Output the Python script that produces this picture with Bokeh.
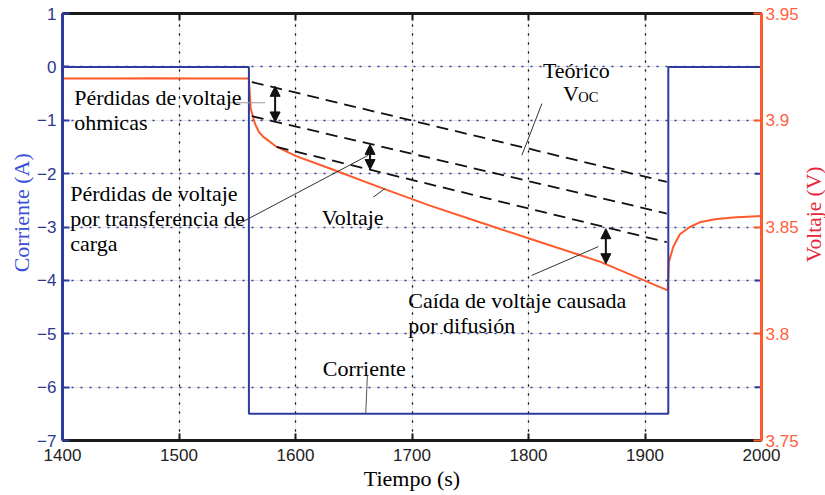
import math
from bokeh.plotting import figure
from bokeh.models import (Range1d, LinearAxis, FixedTicker, Label, Arrow,
                          NormalHead, Grid)
from bokeh.embed import file_html
from bokeh.resources import INLINE

# ---------------- data ----------------
time_ticks = [1400, 1500, 1600, 1700, 1800, 1900, 2000]
current_ticks = [-7, -6, -5, -4, -3, -2, -1, 0, 1]
current_tick_labels = ["\u22127", "\u22126", "\u22125", "\u22124", "\u22123",
                       "\u22122", "\u22121", "0", "1"]
voltage_ticks = [3.75, 3.80, 3.85, 3.90, 3.95]
voltage_tick_labels = ["3.75", "3.8", "3.85", "3.9", "3.95"]

t_current = [1400, 1560, 1560, 1920, 1920, 2000]
current = [0.0, 0.0, -6.5, -6.5, 0.0, 0.0]

t_voltage = [1400, 1440, 1480, 1520, 1559, 1560, 1561.5, 1565.2, 1568.6,
             1572.4, 1583.9, 1601.1, 1629.6, 1675.4, 1715.4, 1758.3, 1801.2,
             1861.2, 1919.5, 1920.5, 1924.2, 1929.9, 1938.5, 1947.0, 1960.0,
             1975.4, 2000]
voltage = [3.9196, 3.9195, 3.9197, 3.9196, 3.9196, 3.9196, 3.9055, 3.8984,
           3.8945, 3.8922, 3.8875, 3.8831, 3.8774, 3.8680, 3.8600, 3.8522,
           3.8445, 3.8338, 3.8203, 3.8336, 3.8406, 3.8466, 3.8500, 3.8522,
           3.8536, 3.8545, 3.8551]

# dashed reference lines (theoretical OCV and loss levels)
t_ocv = [1562.5, 1918.7]
v_ocv = [3.9179, 3.8711]
t_ohm = [1562.5, 1918.7]
v_ohm = [3.9019, 3.8563]
t_ct = [1583.9, 1918.7]
v_ct = [3.8875, 3.8429]

# ---------------- styles ----------------
BLUE = "#2E3B9E"
BLUE_TXT = "#2D3A8C"
BLUE_LABEL = "#3A4FD6"
ORANGE = "#FF5A2C"
ORANGE_TXT = "#FF5F3F"
RED_LABEL = "#E8253B"
SERIF = "Liberation Serif"
SANS = "Liberation Sans"

p = figure(width=825, height=495, x_range=Range1d(1400, 2000),
           y_range=Range1d(-7, 1), output_backend="svg", toolbar_location=None,
           min_border_left=62, min_border_right=64, min_border_top=13,
           min_border_bottom=55, x_axis_location=None, y_axis_location=None)
p.extra_y_ranges = {"v": Range1d(3.75, 3.95)}
p.outline_line_color = None
p.background_fill_color = "white"
p.border_fill_color = "white"

# grids
p.add_layout(Grid(dimension=0, ticker=FixedTicker(ticks=time_ticks[1:-1]),
                  grid_line_color="black", grid_line_dash="2 7",
                  grid_line_width=1.3))
p.add_layout(Grid(dimension=1, ticker=FixedTicker(ticks=current_ticks[1:-1]),
                  grid_line_color=BLUE, grid_line_dash="2 7",
                  grid_line_width=1.5))

# axes
xaxis = LinearAxis(ticker=FixedTicker(ticks=time_ticks), axis_label="Tiempo (s)")
xaxis.axis_line_color = "#1a1a1a"
xaxis.axis_line_width = 3
xaxis.major_tick_in = 7
xaxis.major_tick_out = 0
xaxis.major_tick_line_color = "#1a1a1a"
xaxis.major_tick_line_width = 2
xaxis.minor_tick_line_color = None
xaxis.major_label_text_font = SANS
xaxis.major_label_text_font_size = "17px"
xaxis.major_label_text_color = "#222222"
xaxis.major_label_standoff = 8
xaxis.axis_label_text_font = SERIF
xaxis.axis_label_text_font_size = "22px"
xaxis.axis_label_text_font_style = "normal"
xaxis.axis_label_text_color = "black"
xaxis.axis_label_standoff = 2
p.add_layout(xaxis, "below")

topaxis = LinearAxis(ticker=FixedTicker(ticks=time_ticks))
topaxis.axis_line_color = "#1a1a1a"
topaxis.axis_line_width = 3
topaxis.major_tick_in = 7
topaxis.major_tick_out = 0
topaxis.major_tick_line_color = "#1a1a1a"
topaxis.major_tick_line_width = 2
topaxis.minor_tick_line_color = None
topaxis.major_label_text_font_size = "0px"
topaxis.major_label_overrides = {t: "" for t in time_ticks}
topaxis.major_label_standoff = 0
p.add_layout(topaxis, "above")

yaxis = LinearAxis(ticker=FixedTicker(ticks=current_ticks))
yaxis.axis_line_color = BLUE
yaxis.axis_line_width = 3
yaxis.major_tick_in = 7
yaxis.major_tick_out = 0
yaxis.major_tick_line_color = BLUE
yaxis.major_tick_line_width = 2
yaxis.minor_tick_line_color = None
yaxis.major_label_overrides = dict(zip(current_ticks, current_tick_labels))
yaxis.major_label_text_font = SANS
yaxis.major_label_text_font_size = "17px"
yaxis.major_label_text_color = BLUE_TXT
yaxis.major_label_standoff = 6
p.add_layout(yaxis, "left")

vaxis = LinearAxis(y_range_name="v", ticker=FixedTicker(ticks=voltage_ticks))
vaxis.axis_line_color = ORANGE
vaxis.axis_line_width = 3
vaxis.major_tick_in = 8
vaxis.major_tick_out = 0
vaxis.major_tick_line_color = ORANGE
vaxis.major_tick_line_width = 2
vaxis.minor_tick_line_color = None
vaxis.major_label_overrides = dict(zip(voltage_ticks, voltage_tick_labels))
vaxis.major_label_text_font = SANS
vaxis.major_label_text_font_size = "17px"
vaxis.major_label_text_color = ORANGE_TXT
vaxis.major_label_standoff = 4
p.add_layout(vaxis, "right")

# rotated axis titles (both read bottom-to-top), placed in the side panels
p.add_layout(Label(x=time_ticks[0], y=-2.733, x_offset=-41, angle=math.pi / 2,
                   text="Corriente (A)", text_font=SERIF, text_font_size="22px",
                   text_color=BLUE_LABEL, text_align="center",
                   text_baseline="middle", text_line_height=0.5), "left")
p.add_layout(Label(x=time_ticks[-1], y=3.8559, y_range_name="v", x_offset=52,
                   angle=math.pi / 2, text="Voltaje (V)", text_font=SERIF,
                   text_font_size="21.5px", text_color=RED_LABEL,
                   text_align="center", text_baseline="middle",
                   text_line_height=0.5), "right")

# mirrored blue current ticks on the right edge
even_ticks = [v for v in current_ticks[1:-1] if v % 2 == 0]
p.scatter(x=[time_ticks[-1]] * len(even_ticks), y=even_ticks, marker="dash",
          size=14, line_color=BLUE, line_width=2)

# data lines
p.line(t_voltage, voltage, y_range_name="v", line_color=ORANGE, line_width=2)
p.line(t_current, current, line_color=BLUE, line_width=2)

for tt, vv in [(t_ocv, v_ocv), (t_ohm, v_ohm), (t_ct, v_ct)]:
    p.line(tt, vv, y_range_name="v", line_color="#111111", line_width=1.8,
           line_dash="12 7")

# double-headed arrows
for (xa, y0, y1) in [(1582.5, 3.9159, 3.8992), (1664.0, 3.8887, 3.8769),
                     (1866.4, 3.8492, 3.8328)]:
    p.add_layout(Arrow(x_start=xa, y_start=y0, x_end=xa, y_end=y1,
                       y_range_name="v", line_color="#111111", line_width=2,
                       start=NormalHead(size=10, fill_color="#111111",
                                        line_color="#111111"),
                       end=NormalHead(size=10, fill_color="#111111",
                                      line_color="#111111")))

# leader lines
p.segment(x0=[1542.3], y0=[3.9082], x1=[1573.9], y1=[3.9082], y_range_name="v",
          line_color="#9a9a9a", line_width=1.2)
p.segment(x0=[1550.3, 1666.8, 1794.3, 1802.7],
          y0=[3.8512, 3.8640, 3.8836, 3.8273],
          x1=[1662.5, 1676.8, 1811.5, 1859.9],
          y1=[3.8836, 3.8680, 3.9078, 3.8408], y_range_name="v",
          line_color="#333333", line_width=1)
p.segment(x0=[1661.7], y0=[-5.781], x1=[1660.3], y1=[-6.499],
          line_color="#555555", line_width=1)

# text annotations (current-axis coordinates)
def txt(x, y, s, size="22px"):
    p.add_layout(Label(x=x, y=y, text=s, text_font=SERIF, text_font_size=size,
                       text_color="black", text_baseline="alphabetic",
                       text_align="left"))

txt(1410.0, -0.569, "Pérdidas de voltaje")
txt(1410.0, -1.038, "ohmicas")
txt(1406.6, -2.378, "Pérdidas de voltaje")
txt(1406.6, -2.847, "por transferencia de")
txt(1406.6, -3.316, "carga")
txt(1622.5, -2.813, "Voltaje")
txt(1812.4, -0.076, "Teórico")
txt(1829.6, -0.500, "V")
txt(1842.8, -0.560, "OC", size="14.5px")
txt(1696.8, -4.375, "Caída de voltaje causada")
txt(1696.8, -4.844, "por difusión")
txt(1623.4, -5.655, "Corriente")

open("out.html", "w").write(file_html(p, INLINE))
